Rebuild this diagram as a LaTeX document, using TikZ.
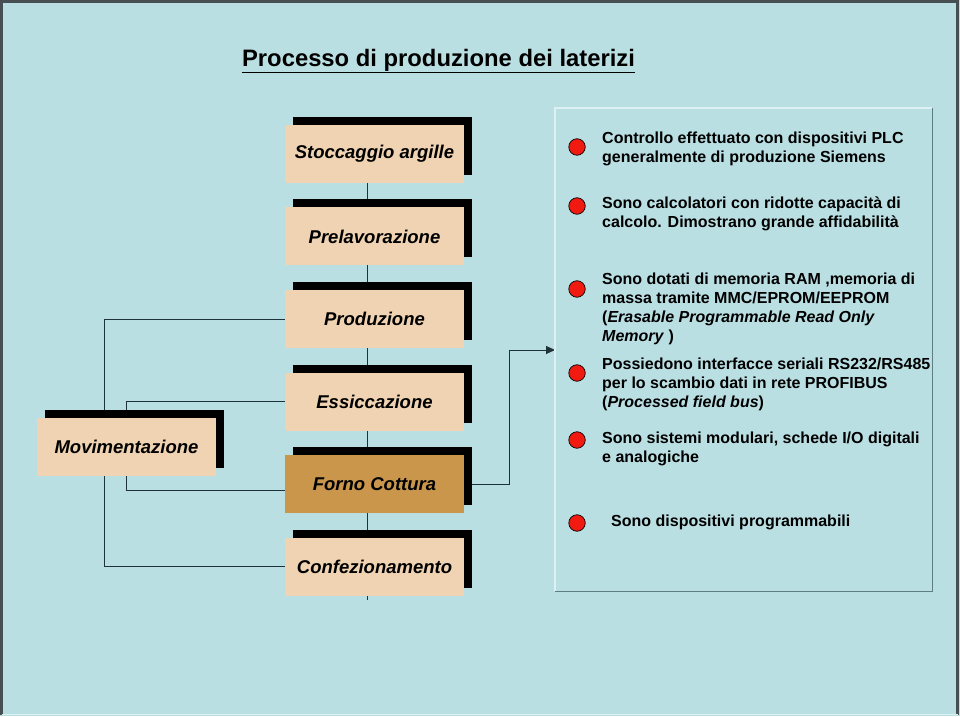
\documentclass[tikz,border=0pt]{standalone}
\usepackage{fontspec}
\setmainfont{Liberation Sans}
\usetikzlibrary{arrows.meta,shadows,calc}
\definecolor{bgc}{HTML}{BADFE3}
\definecolor{beige}{HTML}{F0D3B3}
\definecolor{fornoc}{HTML}{C9964C}
\definecolor{linec}{HTML}{1E3238}
\definecolor{panelhi}{HTML}{DDF1F3}
\definecolor{panelsh}{HTML}{5E7E84}
\definecolor{framec}{HTML}{474F52}
\definecolor{bulletred}{HTML}{F01A10}
\pgfdeclarelayer{bglayer}
\pgfdeclarelayer{linelayer}
\pgfsetlayers{bglayer,linelayer,main}
\tikzset{
  stagebox/.style={rectangle, minimum width=179pt, minimum height=58pt, inner sep=0pt,
    fill=beige, font=\fontsize{18.5}{21}\selectfont\bfseries\itshape,
    general shadow={fill=black, shadow xshift=8pt, shadow yshift=8pt}},
  conn/.style={draw=linec, line width=0.9pt},
  dot/.style={circle, draw=black, line width=0.7pt, fill=bulletred, minimum size=16.5pt, inner sep=0pt},
  itemtext/.style={anchor=west, align=left, inner sep=0pt,
    font=\fontsize{16}{19}\selectfont\bfseries}
}
\begin{document}
\begin{tikzpicture}[x=1pt,y=-1pt]
\begin{pgfonlayer}{bglayer}
  \fill[bgc] (0,0) rectangle (960,716);
  \draw[draw=framec, line width=2.2pt] (1.5,715) -- (1.5,1.5) -- (957.5,1.5) -- (957.5,715);
  \draw[draw=panelhi, line width=1.2pt] (1.5,714.5) -- (957.5,714.5);
\end{pgfonlayer}

\useasboundingbox (0,0) rectangle (960,716);

% title
\node[font=\fontsize{23.8}{27}\selectfont\bfseries] (title) at (438.5,61) {\underline{Processo di produzione dei laterizi}};

% process stages
\node[stagebox] (stocc) at (374.5,154) {Stoccaggio argille};
\node[stagebox] (prelav) at (374.5,236.5) {Prelavorazione};
\node[stagebox] (prod) at (374.5,319) {Produzione};
\node[stagebox] (ess) at (374.5,401.5) {Essiccazione};
\node[stagebox, fill=fornoc] (forno) at (374.5,484) {Forno Cottura};
\node[stagebox] (conf) at (374.5,566.5) {Confezionamento};
\node[stagebox] (mov) at (126.5,447) {Movimentazione};

% right panel
\node[rectangle, minimum width=377pt, minimum height=483pt, inner sep=0pt, anchor=north west] (panel) at (555,108) {};
\draw[draw=panelhi, line width=1.4pt] (panel.south west) -- (panel.north west) -- (panel.north east);
\draw[draw=panelsh, line width=1.8pt] (panel.north east) -- (panel.south east) -- (panel.south west);

\node[dot] (b1) at (577,147) {};
\node[dot] (b2) at (577,206) {};
\node[dot] (b3) at (577,289) {};
\node[dot] (b4) at (577,373) {};
\node[dot] (b5) at (577,440) {};
\node[dot] (b6) at (577,523) {};

\node[itemtext] (t1) at (602,148.5) {Controllo effettuato con dispositivi PLC\\generalmente di produzione Siemens};
\node[itemtext] (t2) at (602,213.5) {Sono calcolatori con ridotte capacità di\\calcolo. Dimostrano grande affidabilità};
\node[itemtext] (t3) at (602,308.5) {Sono dotati di memoria RAM ,memoria di\\massa tramite MMC/EPROM/EEPROM\\(\textit{Erasable Programmable Read Only}\\\textit{Memory} )};
\node[itemtext] (t4) at (602,384.5) {Possiedono interfacce seriali RS232/RS485\\per lo scambio dati in rete PROFIBUS\\(\textit{Processed field bus})};
\node[itemtext] (t5) at (602,449) {Sono sistemi modulari, schede I/O digitali\\e analogiche};
\node[itemtext] (t6) at (611,522) {Sono dispositivi programmabili};

\coordinate (arrtip) at (555,350);

\begin{pgfonlayer}{linelayer}
  \draw[conn] ([xshift=-7.5pt]stocc.south) -- ([xshift=-7.5pt,yshift=-4pt]conf.south);
  \draw[conn] ([xshift=-22.5pt]mov.north) |- (prod.west);
  \draw[conn] (mov.north) |- (ess.west);
  \draw[conn] (mov.south) |- ([yshift=-6pt]forno.west);
  \draw[conn] ([xshift=-22.5pt]mov.south) |- (conf.west);
  \draw[conn, -{Triangle[length=9pt,width=8pt]}] ([xshift=8pt]forno.east) -- ++(37,0) |- (arrtip);
\end{pgfonlayer}
\end{tikzpicture}
\end{document}
